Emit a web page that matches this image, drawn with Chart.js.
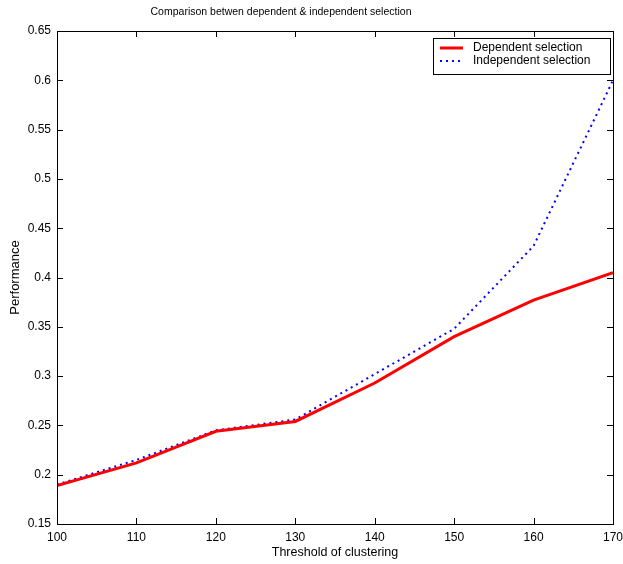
<!DOCTYPE html>
<html>
<head>
<meta charset="utf-8">
<script src="https://cdn.jsdelivr.net/npm/chart.js@4/dist/chart.umd.min.js"></script>
<style>
  html, body { margin: 0; padding: 0; background: #fff; }
  #wrap { width: 623px; height: 564px; }
</style>
</head>
<body>
<div id="wrap"><canvas id="chart" width="623" height="564"></canvas></div>
<script>
// values
const thresholds = [100, 110, 120, 130, 140, 150, 160, 170];
const dependentSel = [0.189, 0.212, 0.244, 0.254, 0.293, 0.340, 0.377, 0.405];
const independentSel = [0.190, 0.215, 0.245, 0.256, 0.302, 0.348, 0.432, 0.600];
const seriesNames = ["Dependent selection", "Independent selection"];
const chartTitle = "Comparison betwen dependent & independent selection";

const FONT = "'Liberation Sans', Arial, sans-serif";

// matlab style frame: box with inward ticks on all 4 sides
const framePlugin = {
  id: "frame",
  afterDraw(chart) {
    const { ctx, chartArea: a, scales } = chart;
    ctx.save();

    // title (sits a bit left of centre in the original)
    ctx.fillStyle = "#000";
    ctx.font = "10.5px " + FONT;
    ctx.textAlign = "center";
    ctx.textBaseline = "middle";
    ctx.fillText(chartTitle, 281, 12);
    ctx.textAlign = "left";

    ctx.strokeStyle = "#000";
    ctx.lineWidth = 1;
    ctx.strokeRect(a.left + 0.5, a.top + 0.5, a.right - a.left, a.bottom - a.top);
    ctx.beginPath();
    scales.x.ticks.forEach((t) => {
      const px = Math.round(scales.x.getPixelForValue(t.value)) + 0.5;
      ctx.moveTo(px, a.bottom); ctx.lineTo(px, a.bottom - 6);
      ctx.moveTo(px, a.top); ctx.lineTo(px, a.top + 6);
    });
    scales.y.ticks.forEach((t) => {
      const py = Math.round(scales.y.getPixelForValue(t.value)) + 0.5;
      ctx.moveTo(a.left, py); ctx.lineTo(a.left + 6, py);
      ctx.moveTo(a.right, py); ctx.lineTo(a.right - 6, py);
    });
    ctx.stroke();

    // legend box inside top right
    const bx = a.right - 180, by = a.top + 7, bw = 177, bh = 36;
    ctx.fillStyle = "#fff";
    ctx.fillRect(bx, by, bw, bh);
    ctx.strokeRect(bx + 0.5, by + 0.5, bw, bh);
    chart.data.datasets.forEach((ds, i) => {
      const ly = by + 10 + i * 13;
      ctx.beginPath();
      ctx.strokeStyle = ds.borderColor;
      ctx.lineWidth = ds.borderWidth;
      ctx.setLineDash(ds.borderDash || []);
      ctx.moveTo(bx + 7, ly); ctx.lineTo(bx + 30, ly);
      ctx.stroke();
      ctx.setLineDash([]);
      ctx.fillStyle = "#000";
      ctx.font = "12px " + FONT;
      ctx.textBaseline = "middle";
      ctx.fillText(ds.label, bx + 40, ly);
    });
    ctx.restore();
  },
};

const ctx = document.getElementById("chart").getContext("2d");
new Chart(ctx, {
  type: "line",
  data: {
    labels: thresholds,
    datasets: [
      {
        label: seriesNames[0],
        data: thresholds.map((x, i) => ({ x: x, y: dependentSel[i] })),
        borderColor: "#ff0000",
        borderWidth: 3,
        pointRadius: 0,
        tension: 0,
      },
      {
        label: seriesNames[1],
        data: thresholds.map((x, i) => ({ x: x, y: independentSel[i] })),
        borderColor: "#0000ff",
        borderWidth: 2,
        borderDash: [2, 4],
        pointRadius: 0,
        tension: 0,
      },
    ],
  },
  options: {
    responsive: false,
    animation: false,
    layout: { padding: { left: 0, right: 0, top: 31, bottom: 0 } },
    plugins: {
      legend: { display: false },
      tooltip: { enabled: false },
      title: { display: false },
    },
    scales: {
      x: {
        type: "linear",
        min: 100,
        max: 170,
        ticks: { stepSize: 10, color: "#000", padding: 6, font: { family: FONT, size: 12 } },
        grid: { display: false, drawTicks: false },
        border: { display: false },
        title: {
          display: true,
          text: "Threshold of clustering",
          color: "#000",
          font: { family: FONT, size: 12.5 },
          padding: { top: 0, bottom: 3.5 },
        },
        afterFit(scale) {
          scale.height = 40;
          scale.paddingRight = 10; // let the plot run out to x=613 like the original
        },
      },
      y: {
        min: 0.15,
        max: 0.65,
        ticks: {
          stepSize: 0.05,
          color: "#000",
          padding: 6,
          font: { family: FONT, size: 12 },
          callback: (v) => parseFloat(v.toFixed(2)).toString(),
        },
        grid: { display: false, drawTicks: false },
        border: { display: false },
        title: {
          display: true,
          text: "Performance",
          color: "#000",
          font: { family: FONT, size: 13 },
          padding: { top: 8, bottom: 0 },
        },
        afterFit(scale) { scale.width = 57; },
      },
    },
  },
  plugins: [framePlugin],
});
</script>
</body>
</html>
